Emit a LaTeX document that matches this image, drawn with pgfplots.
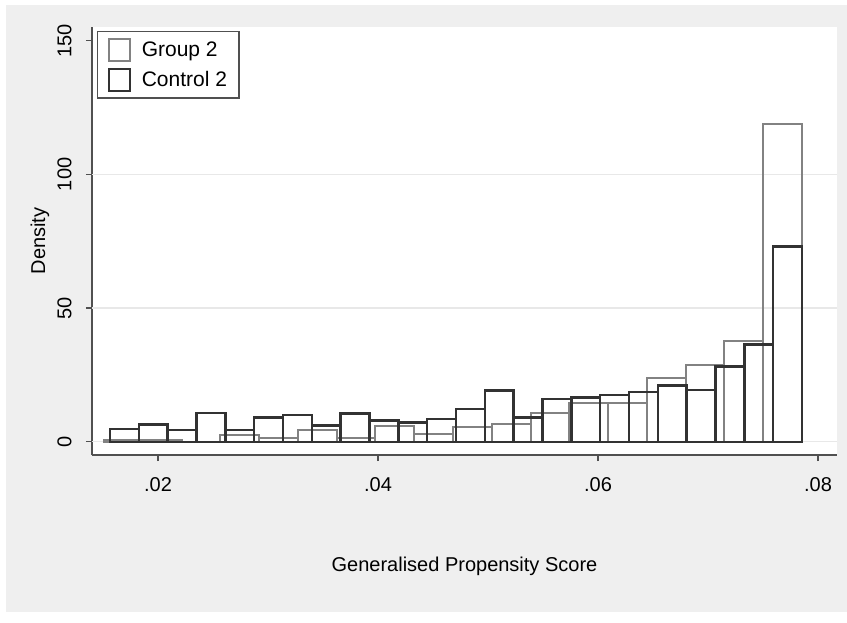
\documentclass[border=0pt]{standalone}
\usepackage{fontspec}
\setmainfont{Liberation Sans}
\usepackage{pgfplots}
\pgfplotsset{compat=1.18}

\definecolor{pagegray}{RGB}{239,239,239}
\definecolor{gridgray}{RGB}{232,232,232}
\definecolor{axisgray}{RGB}{80,80,80}
\definecolor{groupgray}{RGB}{130,130,130}
\definecolor{controldark}{RGB}{50,50,50}

\begin{document}
\begin{tikzpicture}[font=\fontsize{20}{24}\selectfont, x=1pt, y=1pt]
  % page and graph region
  \fill[white] (0,0) rectangle (847,622);
  \fill[pagegray] (6,10) rectangle (847,617);

  \begin{axis}[
    at={(92pt,167pt)}, anchor=south west,
    scale only axis, width=745pt, height=428pt,
    xmin=0.014, xmax=0.081727,
    ymin=-4.976, ymax=155.14,
    axis x line*=bottom, axis y line*=left,
    axis line style={axisgray, line width=1.4pt, -},
    axis background/.style={fill=white},
    tick align=outside, major tick length=6pt,
    tick style={axisgray, line width=1.2pt},
    scaled x ticks=false,
    xtick={0.02,0.04,0.06,0.08},
    xticklabels={.02,.04,.06,.08},
    ytick={0,50,100,150},
    yticklabels={0,50,100,150},
    /pgf/number format/assume math mode=true,
    xticklabel style={yshift=-13pt},
    yticklabel style={rotate=90, anchor=south, yshift=11pt},
    xlabel={Generalised Propensity Score},
    ylabel={Density},
    xlabel style={at={(axis description cs:0.5,0)}, anchor=center, yshift=-111pt},
    every axis y label/.append style={at={(-52pt,214pt)}, anchor=center},
    legend cell align=left,
    legend style={
      at={(axis description cs:0.0067,0.9907)}, anchor=north west,
      draw=axisgray, line width=1.2pt, fill=white,
      font=\fontsize{21}{25}\selectfont,
      inner xsep=10pt, inner ysep=6pt, row sep=6pt,
    },
    legend image code/.code={
      \draw[#1, fill=white] (0pt,-11pt) rectangle (21pt,11pt);
      \path[draw=none] (0pt,0pt) -- (31pt,0pt);
    },
  ]
    % horizontal grid
    \draw[gridgray, line width=1.2pt] (axis cs:0.014,0) -- (axis cs:0.081727,0);
    \draw[gridgray, line width=1.2pt] (axis cs:0.014,50) -- (axis cs:0.081727,50);
    \draw[gridgray, line width=1.2pt] (axis cs:0.014,100) -- (axis cs:0.081727,100);

    % Group 2: 18 bins
    \addplot[ybar interval, draw=groupgray, fill=none, line width=2pt]
      coordinates {
        (0.015091,0.6) (0.018616,0.6) (0.022141,0.0) (0.025667,2.6)
        (0.029192,1.4) (0.032717,4.3) (0.036243,1.5) (0.039768,6.0)
        (0.043293,2.8) (0.046818,5.4) (0.050344,6.6) (0.053869,10.6)
        (0.057394,14.4) (0.060920,14.4) (0.064445,24.0) (0.067970,28.7)
        (0.071495,37.8) (0.075021,118.7) (0.078546,118.7)
      };
    \addlegendentry{Group 2}

    % Control 2: 24 bins
    \addplot[ybar interval, draw=controldark, fill=none, line width=2.4pt]
      coordinates {
        (0.015636,4.75) (0.018257,6.4) (0.020878,4.3) (0.023500,10.7)
        (0.026121,4.4) (0.028742,9.1) (0.031363,10.1) (0.033984,6.0)
        (0.036606,10.6) (0.039227,7.9) (0.041848,7.2) (0.044469,8.4)
        (0.047090,12.2) (0.049712,19.1) (0.052333,9.1) (0.054954,15.9)
        (0.057575,16.6) (0.060196,17.5) (0.062818,18.5) (0.065439,21.0)
        (0.068060,19.3) (0.070681,28.1) (0.073302,36.4) (0.075924,73.0)
        (0.078545,73.0)
      };
    \addlegendentry{Control 2}
  \end{axis}
\end{tikzpicture}
\end{document}
